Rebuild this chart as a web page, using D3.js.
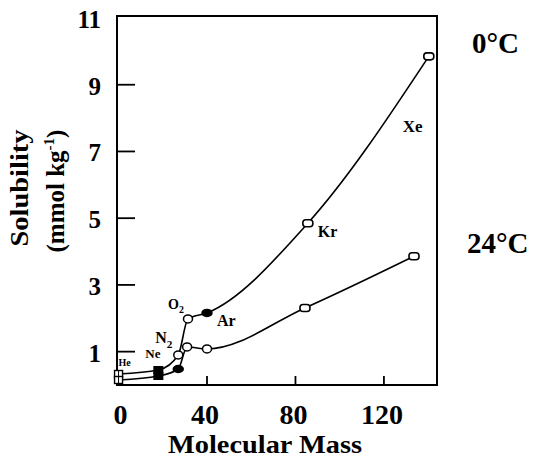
<!DOCTYPE html>
<html>
<head>
<meta charset="utf-8">
<script src="https://cdn.jsdelivr.net/npm/d3@7"></script>
<style>
  html, body { margin: 0; padding: 0; background: #fff; }
  svg { display: block; }
</style>
</head>
<body>
<script>
// ---- data ----
const gases = ["He", "Ne", "N2", "O2", "Ar", "Kr", "Xe"];
const mass0C = [0, 18, 27, 31.4, 40, 85.6, 140.3];
const sol0C = [0.33, 0.45, 0.9, 1.98, 2.16, 4.85, 9.85];
const mass24C = [0, 18, 27, 31, 40, 84.3, 133.6];
const sol24C = [0.15, 0.27, 0.48, 1.14, 1.08, 2.31, 3.86];
const xTickLabels = [0, 40, 80, 120];
const yTickLabels = [1, 3, 5, 7, 9, 11];
const seriesNames = ["0°C", "24°C"];

// ---- styling ----
const W = 536, H = 462;
const mLeft = 117, mRight = 437, mTop = 16, mBottom = 385;
const filled0 = new Set(["Ne", "Ar"]);
const filled24 = new Set(["Ne", "N2"]);
const FONT = "Liberation Serif, Times New Roman, Times, serif";

const svg = d3.select("body").append("svg").attr("width", W).attr("height", H)
  .attr("font-family", FONT).attr("font-weight", "bold");

const x = d3.scaleLinear().domain([-0.7, 144]).range([mLeft, mRight]);
const y = d3.scaleLinear().domain([0, 11.06]).range([mBottom, mTop]);

// frame
svg.append("rect").attr("x", mLeft).attr("y", mTop)
  .attr("width", mRight - mLeft).attr("height", mBottom - mTop)
  .attr("fill", "none").attr("stroke", "#000").attr("stroke-width", 2);

// y ticks (inside)
svg.append("g").selectAll("line").data(yTickLabels.filter(v => v < 11)).join("line")
  .attr("x1", mLeft).attr("x2", mLeft + 18)
  .attr("y1", d => y(d)).attr("y2", d => y(d))
  .attr("stroke", "#000").attr("stroke-width", 1.8);
svg.append("g").selectAll("text").data(yTickLabels).join("text")
  .attr("x", 101).attr("y", d => y(d) + 10)
  .attr("text-anchor", "end").attr("font-size", 25)
  .text(d => d);

// x ticks (inside)
svg.append("g").selectAll("line").data(xTickLabels.filter(v => v > 0)).join("line")
  .attr("x1", d => x(d)).attr("x2", d => x(d))
  .attr("y1", mBottom).attr("y2", mBottom - 9)
  .attr("stroke", "#000").attr("stroke-width", 1.8);
svg.append("g").selectAll("text").data(xTickLabels).join("text")
  .attr("x", d => x(d) + (d === 0 ? 2 : -2)).attr("y", 424)
  .attr("text-anchor", "middle").attr("font-size", 28)
  .text(d => d);

// axis titles
svg.append("text").attr("x", 265).attr("y", 453).attr("text-anchor", "middle")
  .attr("font-size", 26).attr("textLength", 194).attr("lengthAdjust", "spacingAndGlyphs")
  .text("Molecular Mass");
svg.append("text").attr("transform", "translate(28,188) rotate(-90)")
  .attr("text-anchor", "middle").attr("font-size", 25)
  .attr("textLength", 117).attr("lengthAdjust", "spacingAndGlyphs")
  .text("Solubility");
const yl2 = svg.append("text").attr("transform", "translate(64,191) rotate(-90)")
  .attr("text-anchor", "middle").attr("font-size", 25);
yl2.append("tspan").text("(mmol kg");
yl2.append("tspan").attr("font-size", 15).attr("dy", -10).text("-1");
yl2.append("tspan").attr("dy", 10).text(")");

// series
const data0 = gases.map((g, i) => ({ g, m: mass0C[i], s: sol0C[i] }));
const data24 = gases.map((g, i) => ({ g, m: mass24C[i], s: sol24C[i] }));
const line = d3.line().x(d => x(d.m)).y(d => y(d.s)).curve(d3.curveMonotoneX);

[[data0, filled0], [data24, filled24]].forEach(([data, filled]) => {
  svg.append("path").datum(data).attr("d", line)
    .attr("fill", "none").attr("stroke", "#000").attr("stroke-width", 1.6);
  const g = svg.append("g");
  data.forEach(d => {
    const cx = x(d.m), cy = y(d.s);
    const isF = filled.has(d.g);
    if (d.g === "He") {
      g.append("rect").attr("x", cx - 4).attr("y", cy - 3.5).attr("width", 8).attr("height", 7)
        .attr("fill", "#fff").attr("stroke", "#000").attr("stroke-width", 1.4);
      g.append("line").attr("x1", cx).attr("x2", cx).attr("y1", cy - 3.5).attr("y2", cy + 3.5)
        .attr("stroke", "#000").attr("stroke-width", 1);
    } else if (d.g === "Ne") {
      g.append("rect").attr("x", cx - 5).attr("y", cy - 4).attr("width", 10).attr("height", 8)
        .attr("fill", "#000");
    } else if (d.g === "Xe" || d.g === "Kr") {
      g.append("rect").attr("x", cx - 5).attr("y", cy - 3.5).attr("width", 10).attr("height", 7)
        .attr("rx", 3).attr("fill", "#fff").attr("stroke", "#000").attr("stroke-width", 1.6);
    } else {
      g.append("ellipse").attr("cx", cx).attr("cy", cy).attr("rx", isF ? 5 : 4.5).attr("ry", isF ? 3.5 : 4)
        .attr("fill", isF ? "#000" : "#fff").attr("stroke", "#000").attr("stroke-width", 1.5);
    }
  });
});

// point labels (anchored to 0°C points)
const p = name => data0.find(d => d.g === name);
function label(name, dx, dy, size, sub) {
  const d = p(name);
  const t = svg.append("text").attr("x", x(d.m) + dx).attr("y", y(d.s) + dy).attr("font-size", size);
  if (sub) {
    t.append("tspan").text(name[0]);
    t.append("tspan").attr("font-size", size * 0.7).attr("dy", size * 0.3).text(name[1]);
  } else {
    t.text(name);
  }
}
label("He", 0, -8, 10);
label("Ne", -13, -12, 13);
label("N2", -23, -12, 16, true);
label("O2", -20, -10, 14, true);
label("Ar", 10, 13, 16);
label("Kr", 10, 14, 16);
label("Xe", -26, 76, 17);

// series labels
svg.append("text").attr("x", 472).attr("y", 53).attr("font-size", 29).text(seriesNames[0]);
svg.append("text").attr("x", 467).attr("y", 253).attr("font-size", 29).text(seriesNames[1]);
</script>
</body>
</html>
